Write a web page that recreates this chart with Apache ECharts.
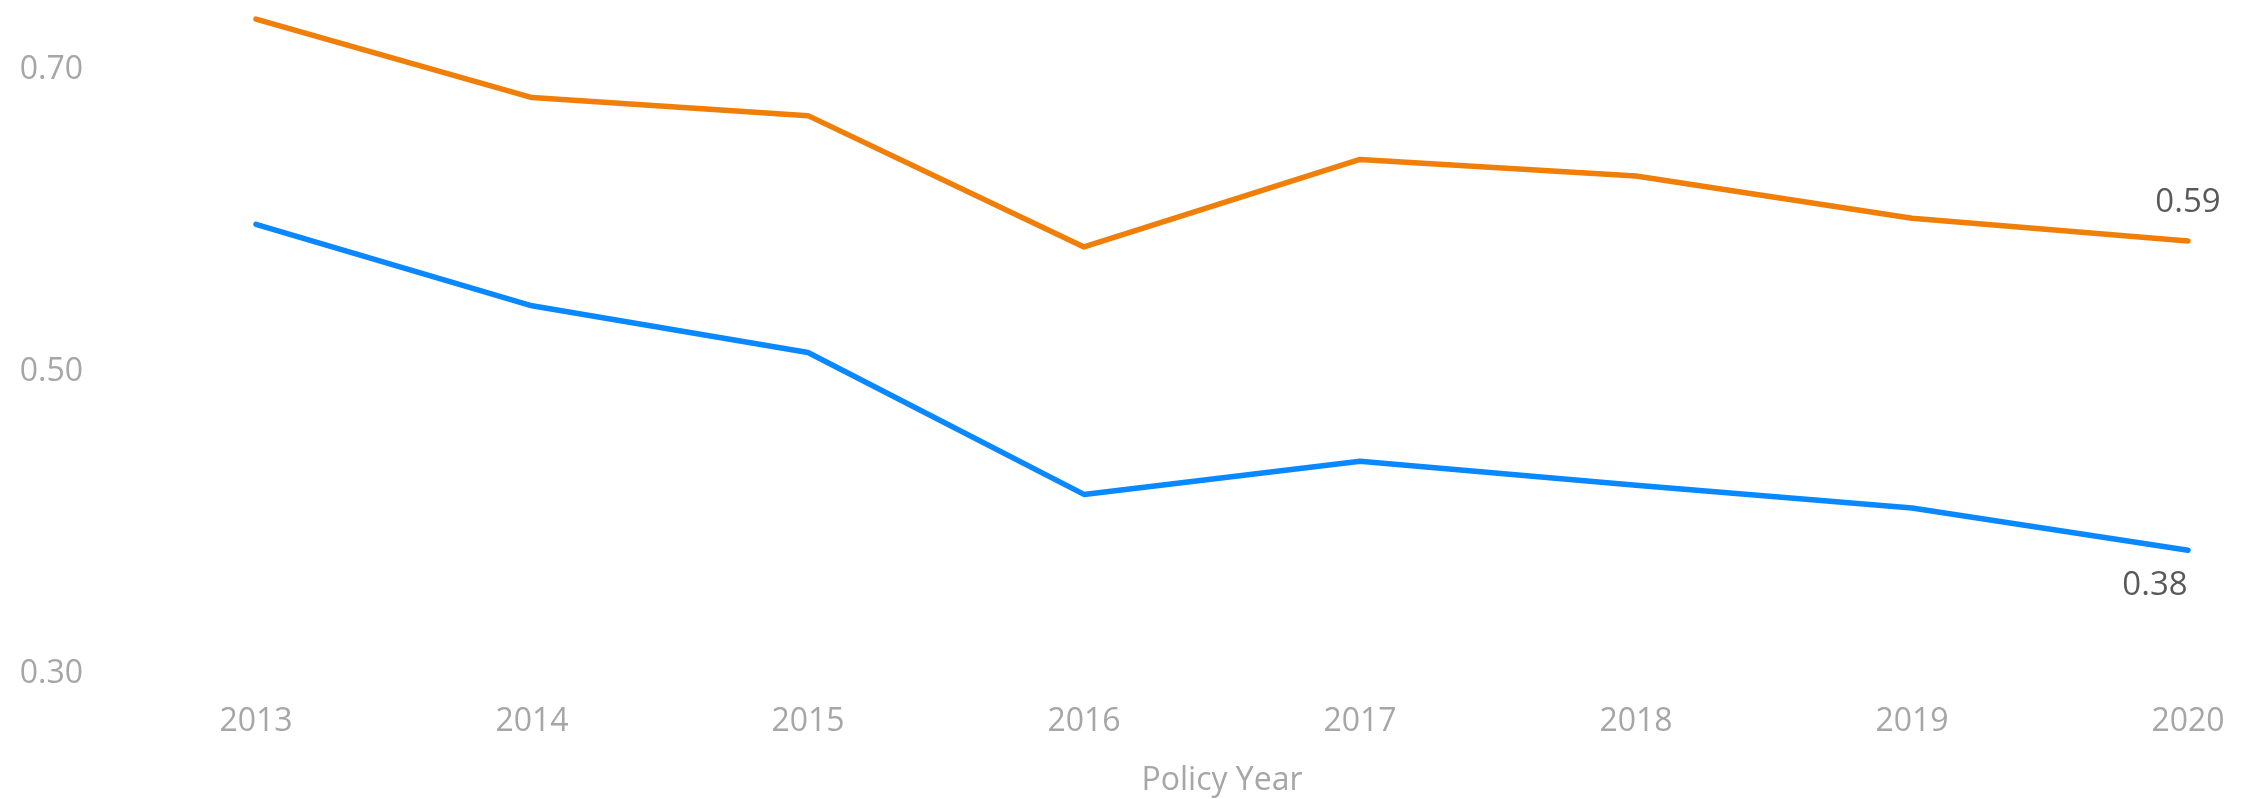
<!DOCTYPE html>
<html>
<head>
<meta charset="utf-8">
<title>Policy Year</title>
<script src="https://cdn.jsdelivr.net/npm/echarts@6/dist/echarts.min.js"></script>
<style>
    html, body { margin: 0; padding: 0; background: #fff; }
    #chart { width: 2254px; height: 799px; }
</style>
</head>
<body>
<div id="chart"></div>
<script>
// 数据
var years = ['2013', '2014', '2015', '2016', '2017', '2018', '2019', '2020'];
var orangeValues = [0.734, 0.682, 0.670, 0.583, 0.641, 0.630, 0.602, 0.587];
var blueValues = [0.598, 0.544, 0.513, 0.419, 0.441, 0.425, 0.410, 0.382];
var yTicks = [0.30, 0.50, 0.70];

var axisGrey = '#a6a6a6';
var labelGrey = '#595959';
var fontName = 'Open Sans';

// only the last point carries a label
function lastLabel(values, pos, offset) {
    return values.map(function (v, i) {
        if (i !== values.length - 1) {
            return v;
        }
        return {
            value: v,
            label: {
                show: true,
                position: pos,
                distance: pos === 'top' ? 22 : 19,
                offset: offset,
                color: labelGrey,
                fontFamily: fontName,
                fontSize: 33,
                formatter: function (p) { return p.value.toFixed(2); }
            }
        };
    });
}

var myChart = echarts.init(document.getElementById('chart'));

var option = {
    backgroundColor: '#fff',
    animation: false,
    grid: {
        left: 256,
        right: 66,
        top: 10,
        bottom: 125,
        outerBoundsMode: 'none'
    },
    xAxis: {
        type: 'category',
        data: years,
        boundaryGap: false,
        axisLine: { show: false },
        axisTick: { show: false },
        axisLabel: {
            color: axisGrey,
            fontFamily: fontName,
            fontSize: 32,
            margin: 32
        },
        name: 'Policy Year',
        nameLocation: 'middle',
        nameGap: 91,
        nameTextStyle: {
            color: axisGrey,
            fontFamily: fontName,
            fontSize: 32
        }
    },
    yAxis: {
        type: 'value',
        min: yTicks[0],
        max: 0.74,
        interval: 0.2,
        splitLine: { show: false },
        axisLine: { show: false },
        axisTick: { show: false },
        axisLabel: {
            color: axisGrey,
            fontFamily: fontName,
            fontSize: 32,
            margin: 173,
            showMaxLabel: false,
            formatter: function (v) {
                // 只显示 0.30 / 0.50 / 0.70
                for (var i = 0; i < yTicks.length; i++) {
                    if (Math.abs(v - yTicks[i]) < 1e-6) return v.toFixed(2);
                }
                return '';
            }
        }
    },
    series: [
        {
            name: 'Orange',
            type: 'line',
            data: lastLabel(orangeValues, 'top', [0, 0]),
            symbol: 'circle',
            symbolSize: 0,
            lineStyle: { color: '#f07f09', width: 5.5, cap: 'round', join: 'round' },
            itemStyle: { color: '#f07f09' }
        },
        {
            name: 'Blue',
            type: 'line',
            data: lastLabel(blueValues, 'bottom', [-33, 0]),
            symbol: 'circle',
            symbolSize: 0,
            lineStyle: { color: '#0a88ff', width: 5.5, cap: 'round', join: 'round' },
            itemStyle: { color: '#0a88ff' }
        }
    ]
};

myChart.setOption(option);
</script>
</body>
</html>
